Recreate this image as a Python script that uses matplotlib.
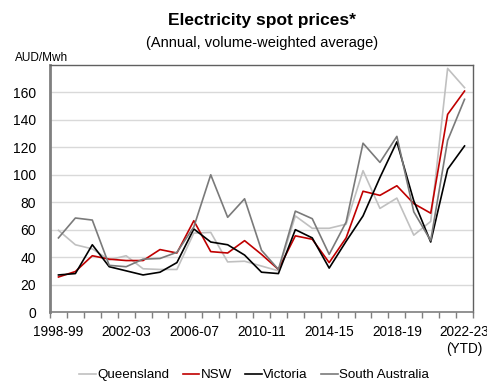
import matplotlib
matplotlib.use("Agg")
import matplotlib.pyplot as plt
from matplotlib import font_manager
import numpy as np

# Fiscal years
years = ["1998-99", "1999-00", "2000-01", "2001-02", "2002-03", "2003-04",
         "2004-05", "2005-06", "2006-07", "2007-08", "2008-09", "2009-10",
         "2010-11", "2011-12", "2012-13", "2013-14", "2014-15", "2015-16",
         "2016-17", "2017-18", "2018-19", "2019-20", "2020-21", "2021-22",
         "2022-23\n(YTD)"]

# Annual volume-weighted average spot prices, AUD/MWh
queensland = [59.5, 49, 46, 38, 41, 31.5, 31, 31, 57.5, 58, 36.5, 37, 33.5,
              30, 70, 61, 61, 64, 103, 75.5, 83, 56, 66, 177.5, 163.5]
nsw = [25.5, 29.5, 41, 38.5, 37.5, 37.5, 45.5, 43, 66.5, 44, 43, 52, 42,
       31, 55.5, 53, 36, 54, 88, 85, 92, 79, 72, 144, 161]
victoria = [27, 28, 49, 33, 30, 27, 29, 36, 60.5, 51, 49, 41.5, 29, 28, 60,
            54, 32, 51.5, 70, 98, 124, 81, 51, 104, 121]
south_australia = [54, 68.5, 67, 34, 33, 38.5, 39, 43.5, 62, 100, 69, 82.5,
                   45, 31, 73.5, 68, 42, 65.5, 123, 109, 128, 73, 52, 125, 155]

series = [
    ("Queensland", queensland, "#c0c0c0"),
    ("NSW", nsw, "#c00000"),
    ("Victoria", victoria, "#000000"),
    ("South Australia", south_australia, "#7a7a7a"),
]

yticks = [0, 20, 40, 60, 80, 100, 120, 140, 160]

installed = {f.name for f in font_manager.fontManager.ttflist}
fams = [f for f in ["Liberation Sans Narrow", "Liberation Sans", "DejaVu Sans"] if f in installed]
plt.rcParams["font.family"] = fams

W, H = 487, 383
fig = plt.figure(figsize=(W / 100, H / 100), dpi=100)
ax = fig.add_axes([50 / W, 1 - 312 / H, (473 - 50) / W, (312 - 65) / H])

x = np.arange(len(years))
for name, vals, col in series:
    ax.plot(x, vals, color=col, lw=1.2, label=name, zorder=3)

ax.set_xlim(-0.5, len(years) - 0.5)
ax.set_ylim(0, 180)
ax.set_yticks(yticks)
ax.yaxis.grid(True, color="#d9d9d9", lw=1.0, zorder=0)
ax.set_axisbelow(True)
ax.tick_params(axis="y", length=0, labelsize=10, pad=10)

label_idx = list(range(0, len(years), 4))
ax.set_xticks(label_idx)
ax.set_xticklabels([years[i] for i in label_idx], fontsize=9.8, linespacing=1.35)
ax.set_xticks(np.arange(-0.5, len(years)), minor=True)
ax.tick_params(axis="x", which="major", length=0, pad=9)
ax.tick_params(axis="x", which="minor", length=4.5, width=1, color="#7f7f7f", direction="out")

for side in ["top", "right"]:
    ax.spines[side].set_color("#606060")
    ax.spines[side].set_linewidth(1.0)
ax.spines["left"].set_color("#7f7f7f")
ax.spines["left"].set_linewidth(2.0)
ax.spines["bottom"].set_color("#7f7f7f")
ax.spines["bottom"].set_linewidth(1.2)

fig.text(262 / W, 1 - 20 / H, "Electricity spot prices*", ha="center", va="center",
         fontsize=12.5, fontweight="bold")
fig.text(262 / W, 1 - 43 / H, "(Annual, volume-weighted average)", ha="center",
         va="center", fontsize=10.5)
fig.text(15 / W, 1 - 58 / H, "AUD/Mwh", ha="left", va="center", fontsize=8.5)

fig.legend(loc="center", bbox_to_anchor=(254 / W, 1 - 375 / H), ncol=4,
           frameon=False, fontsize=9.6, handlelength=1.25, handletextpad=0.1,
           columnspacing=1.0)

fig.savefig("out.png", dpi=100)
